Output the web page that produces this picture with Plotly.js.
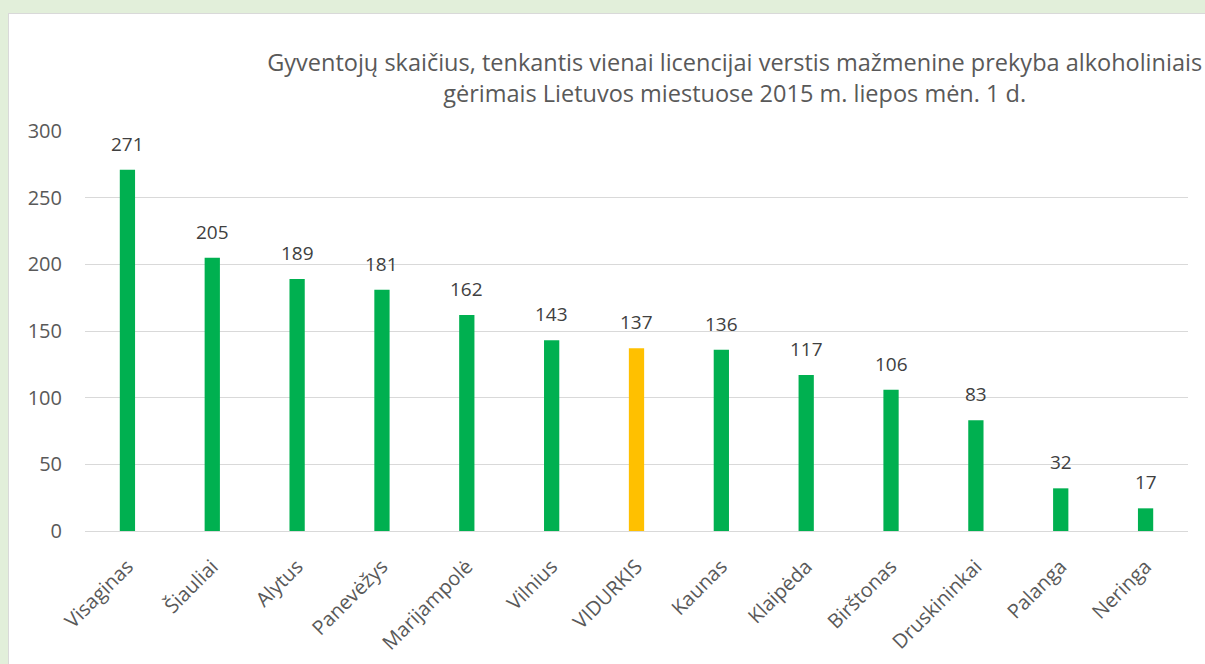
<!DOCTYPE html>
<html>
<head>
<meta charset="utf-8">
<script src="https://cdn.plot.ly/plotly-3.0.1.min.js"></script>
<style>
html,body{margin:0;padding:0;background:#e2efda;width:1205px;height:664px;overflow:hidden;}
#panel{position:absolute;left:8px;top:13px;width:1210px;height:670px;background:#ffffff;border:1px solid #d9d9d9;}
#chart{position:absolute;left:0;top:0;width:1205px;height:664px;}
</style>
</head>
<body>
<div id="panel"></div>
<div id="chart"></div>
<script>
const cities = ["Visaginas","Šiauliai","Alytus","Panevėžys","Marijampolė","Vilnius","VIDURKIS","Kaunas","Klaipėda","Birštonas","Druskininkai","Palanga","Neringa"];
const values = [271,205,189,181,162,143,137,136,117,106,83,32,17];
const barColors = cities.map(c => c === "VIDURKIS" ? "#ffc000" : "#00b050");
const titleText = "Gyventojų skaičius, tenkantis vienai licencijai verstis mažmenine prekyba alkoholiniais<br>gėrimais Lietuvos miestuose 2015 m. liepos mėn. 1 d.";
const yTicks = [0,50,100,150,200,250,300];
const FONT = "'Open Sans', sans-serif";

const trace = {
  type: "bar",
  x: cities,
  y: values,
  marker: {color: barColors},
  hoverinfo: "x+y"
};

const labels = cities.map((c, i) => ({
  x: c, y: values[i], xref: "x", yref: "y",
  text: String(values[i]),
  showarrow: false,
  yanchor: "bottom",
  yshift: 11,
  font: {family: FONT, size: 19, color: "#404040"}
}));

const layout = {
  width: 1205, height: 664,
  paper_bgcolor: "rgba(0,0,0,0)",
  plot_bgcolor: "rgba(0,0,0,0)",
  margin: {l: 85, r: 17, t: 131, b: 133},
  bargap: 0.82,
  showlegend: false,
  font: {family: FONT, color: "#595959"},
  annotations: labels,
  title: {
    text: titleText,
    font: {family: FONT, size: 23.5, color: "#595959"},
    x: 0.589, xref: "paper", xanchor: "center",
    y: 1 - 71/664, yref: "container", yanchor: "top"
  },
  xaxis: {
    type: "category",
    tickangle: -45,
    tickfont: {family: FONT, size: 20, color: "#595959"},
    showgrid: false,
    showline: false,
    ticks: "",
    zeroline: false,
    ticklabelstandoff: 19
  },
  yaxis: {
    range: [0, 300],
    tickvals: yTicks,
    ticktext: yTicks.map(String),
    tickfont: {family: FONT, size: 20, color: "#595959"},
    showgrid: true,
    gridcolor: "#d9d9d9",
    gridwidth: 1,
    zeroline: true,
    zerolinecolor: "#d9d9d9",
    zerolinewidth: 1,
    showline: false,
    ticks: "",
    ticklabelstandoff: 22
  }
};

Plotly.newPlot("chart", [trace], layout, {displayModeBar: false, staticPlot: true});
</script>
</body>
</html>
